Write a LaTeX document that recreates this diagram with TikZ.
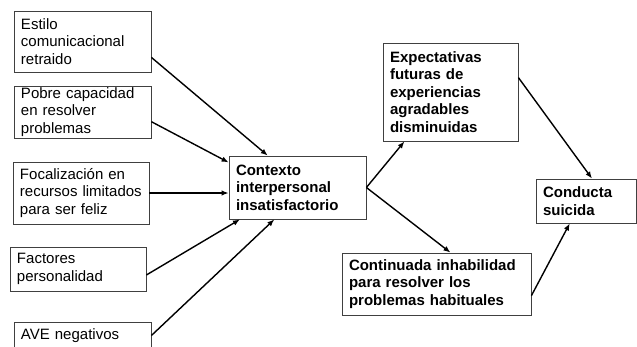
\documentclass[tikz,border=0pt]{standalone}
\usepackage{fontspec}
\setmainfont{Liberation Sans}
\usepackage{tikz}
\usetikzlibrary{arrows.meta}

\begin{document}
\begin{tikzpicture}[x=1bp, y=-1bp,
    box/.style={draw=black!75, line width=0.8bp, inner xsep=7bp, inner ysep=0pt, align=left,
        font=\fontsize{15bp}{17.5bp}\selectfont},
    boldbox/.style={box, font=\fontsize{15bp}{17.5bp}\selectfont\bfseries},
    link/.style={-{Latex[length=7bp,width=5.5bp]}, line width=1.4bp}]
    \useasboundingbox (0,0) rectangle (637,346);
    % causes on the left
    \node[box, text width=123bp, minimum height=61bp] (estilo) at (82.5,41.5) {Estilo\\comunicacional\\retraido};
    \node[box, text width=123bp, minimum height=52bp] (pobre) at (82.5,112) {Pobre capacidad\\en resolver\\problemas};
    \node[box, text width=122bp, minimum height=62bp] (focal) at (81,193) {Focalización en\\recursos limitados\\para ser feliz};
    \node[box, text width=122bp, minimum height=44bp] (factores) at (78,269) {Factores\\personalidad};
    \node[box, text width=123bp, minimum height=27bp] (ave) at (82.5,335.5) {AVE negativos};
    % middle and right
    \node[boldbox, text width=123bp, minimum height=63bp] (contexto) at (297.5,187.5) {Contexto\\interpersonal\\insatisfactorio};
    \node[boldbox, text width=121bp, minimum height=98bp] (expect) at (450.5,92) {Expectativas\\futuras de\\experiencias\\agradables\\disminuidas};
    \node[boldbox, text width=175bp, minimum height=62bp] (continuada) at (436.5,284) {Continuada inhabilidad\\para resolver los\\problemas habituales};
    \node[boldbox, text width=86bp, minimum height=44bp] (conducta) at (586,201) {Conducta\\suicida};

    \draw[link] (estilo.-13) -- (contexto.133);
    \draw[link] (pobre.-8) -- (contexto.160);
    \draw[link] (focal.east) -- (focal.east -| contexto.west);
    \draw[link] (factores.-5) -- (contexto.209);
    \draw[link] (ave.east) -- (contexto.234);
    \draw[link] (contexto.east) -- (expect.227);
    \draw[link] (contexto.east) -- (continuada.66);
    \draw[link] (expect.12) -- (conducta.75);
    \draw[link] (continuada.-7) -- (conducta.234);
\end{tikzpicture}
\end{document}
